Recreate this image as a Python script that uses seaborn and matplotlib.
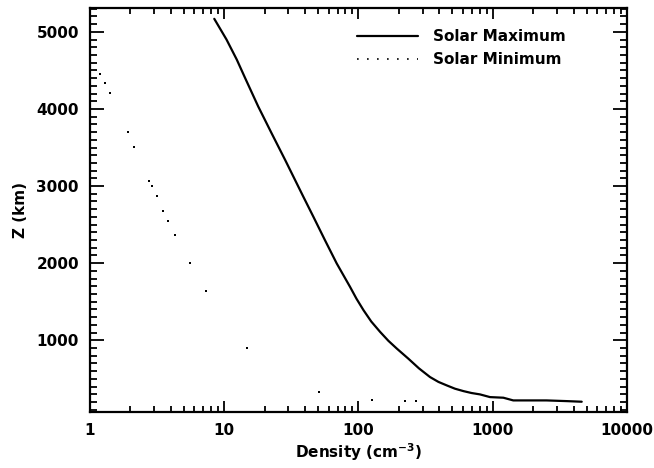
import numpy as np
import pandas as pd
import matplotlib
matplotlib.use("Agg")
import matplotlib.pyplot as plt
import matplotlib.ticker as ticker
from matplotlib.lines import Line2D
import seaborn as sns

# solar maximum profile (density cm^-3, altitude km)
max_density = [8.43, 10.4, 12.4, 14.3, 17.9, 22.5, 28.4, 38.8, 46.1, 56.2, 68.8, 86.5,
               96.6, 109, 124.5, 145, 167, 193, 235, 282, 341, 394, 454, 523, 604, 695,
               804, 954, 1200, 1422, 2513, 3555, 4600]
max_z = [5169, 4900, 4640, 4402, 4033, 3687, 3340, 2863, 2603, 2300, 1997, 1693,
         1539, 1390, 1243, 1108, 993, 892, 762, 636, 523, 460, 415, 372, 341, 316,
         298, 263, 255, 220, 220, 211, 203]

# solar minimum profile (dots)
min_density = [1.19, 1.30, 1.41, 1.93, 2.14, 2.77, 2.88, 3.14, 3.51, 3.83, 4.27, 5.55,
               7.31, 14.9, 50.8, 126, 221, 267]
min_z = [4458, 4332, 4207, 3700, 3505, 3063, 2998, 2872, 2681, 2551, 2361, 1997,
         1637, 905, 328, 220, 216, 211]

xticks = [1, 10, 100, 1000, 10000]
xticklabels = ["1", "10", "100", "1000", "10000"]

sns.set_theme(style="ticks")
plt.rcParams["font.family"] = ["DejaVu Sans"]
plt.rcParams["font.weight"] = "bold"
for k in ["text.color", "axes.labelcolor", "xtick.color", "ytick.color"]:
    plt.rcParams[k] = "black"

dfmax = pd.DataFrame({"density": max_density, "z": max_z})
dfmin = pd.DataFrame({"density": min_density, "z": min_z})

fig = plt.figure(figsize=(6.54, 4.68), dpi=100)
ax = fig.add_axes([0.1376, 0.1197, 0.8211, 0.8633])

sns.lineplot(data=dfmax, x="density", y="z", sort=False, estimator=None,
             color="black", linewidth=1.6, ax=ax)
sns.scatterplot(data=dfmin, x="density", y="z", color="black", marker="s",
                s=3, linewidth=0, ax=ax)

ax.set_xscale("log")
ax.set_xlim(1, 10000)
ax.set_ylim(70, 5310)
ax.set_xticks(xticks)
ax.set_xticklabels(xticklabels)
ax.xaxis.set_minor_locator(ticker.LogLocator(base=10, subs=np.arange(2, 10)))
ax.xaxis.set_minor_formatter(ticker.NullFormatter())
ax.set_yticks([1000, 2000, 3000, 4000, 5000])
ax.yaxis.set_minor_locator(ticker.MultipleLocator(100))

ax.tick_params(which="both", direction="in", top=True, right=True, labelsize=11,
               width=1.3, pad=8)
ax.tick_params(which="major", axis="x", length=8)
ax.tick_params(which="minor", axis="x", length=4)
ax.tick_params(which="major", axis="y", length=10)
ax.tick_params(which="minor", axis="y", length=5)
for s in ax.spines.values():
    s.set_linewidth(1.6)
    s.set_color("black")

ax.set_xlabel("Density (cm$^{-3}$)", fontsize=11, fontweight="bold", labelpad=2)
ax.set_ylabel("Z (km)", fontsize=11, fontweight="bold", labelpad=6)

handles = [Line2D([0], [0], color="black", linewidth=1.6),
           Line2D([0], [0], color="black", linewidth=1.2, linestyle=(0, (1, 5)))]
ax.legend(handles, ["Solar Maximum", "Solar Minimum"], loc="upper right",
          frameon=False, fontsize=11, handlelength=4.0, handletextpad=1.0,
          borderaxespad=0.6, bbox_to_anchor=(0.915, 0.985))

fig.savefig("out.png", dpi=100)
